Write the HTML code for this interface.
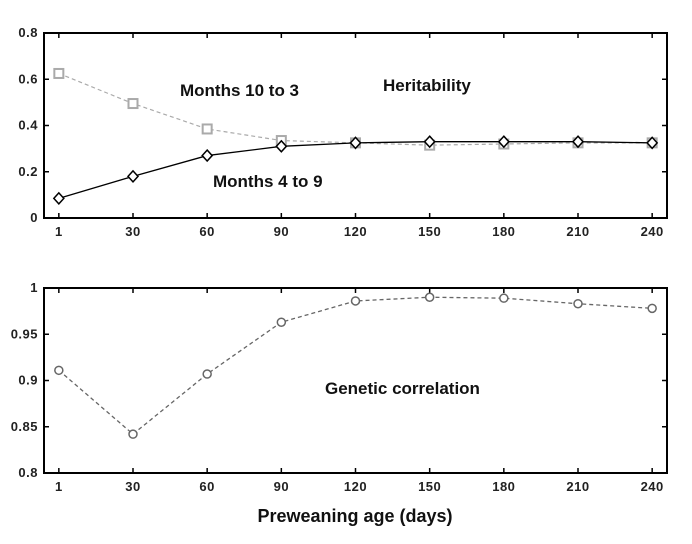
<!DOCTYPE html>
<html><head><meta charset="utf-8"><style>
body{margin:0;background:#fff;}
svg{display:block;font-family:"Liberation Sans",Arial,sans-serif;font-weight:bold;}
</style></head><body>
<svg id="c" width="692" height="544"></svg>
<script>
const categories=["1","30","60","90","120","150","180","210","240"];
const months10to3=[0.625,0.495,0.385,0.335,0.325,0.315,0.32,0.325,0.325];
const months4to9=[0.085,0.18,0.27,0.31,0.325,0.33,0.33,0.33,0.325];
const geneticCorr=[0.911,0.842,0.907,0.963,0.986,0.990,0.989,0.983,0.978];
const topTicks=["0","0.2","0.4","0.6","0.8"];
const botTicks=["0.8","0.85","0.9","0.95","1"];

const svg=document.getElementById('c');const NS="http://www.w3.org/2000/svg";
function mk(t,a,p){const e=document.createElementNS(NS,t);for(const k in a)e.setAttribute(k,a[k]);(p||svg).appendChild(e);return e;}
const L=44,R=667;
const x=i=>L+(i+0.2)/8.4*(R-L);
function panel(name,top,bot,ymin,ymax,ticks){
  const y=v=>bot-(v-ymin)/(ymax-ymin)*(bot-top);
  const g=mk('g',{});
  const fr=mk('rect',{x:L,y:top,width:R-L,height:bot-top,fill:'none',stroke:'#000','stroke-width':2},g);
  
  categories.forEach((c,i)=>{
    mk('line',{x1:x(i),x2:x(i),y1:bot,y2:bot-5,stroke:'#000','stroke-width':1.5},g);
    mk('line',{x1:x(i),x2:x(i),y1:top,y2:top+5,stroke:'#000','stroke-width':1.5},g);
    const t=mk('text',{x:x(i),y:bot+18,'text-anchor':'middle','font-size':13,fill:'#222','letter-spacing':0.5},g);t.textContent=c;
    
  });
  ticks.forEach(s=>{const v=parseFloat(s);const yy=y(v);
    mk('line',{x1:L,x2:L+5,y1:yy,y2:yy,stroke:'#000','stroke-width':1.5},g);
    mk('line',{x1:R,x2:R-5,y1:yy,y2:yy,stroke:'#000','stroke-width':1.5},g);
    const t=mk('text',{x:L-6,y:yy+4,'text-anchor':'end','font-size':13,fill:'#222','letter-spacing':0.5},g);t.textContent=s;
    
  });
  return y;
}
function series(name,vals,y,color,dash,marker,w){
  const p=mk('polyline',{points:vals.map((v,i)=>x(i)+','+y(v)).join(' '),fill:'none',stroke:color,'stroke-width':w,'stroke-dasharray':dash});
  
  vals.forEach((v,i)=>{let m;const cx=x(i),cy=y(v);
    if(marker==='sq')m=mk('rect',{x:cx-4.5,y:cy-4.5,width:9,height:9,fill:'#fff',stroke:color,'stroke-width':2});
    else if(marker==='dia')m=mk('polygon',{points:`${cx},${cy-5.5} ${cx+5},${cy} ${cx},${cy+5.5} ${cx-5},${cy}`,fill:'#fff',stroke:color,'stroke-width':1.5});
    else m=mk('circle',{cx:cx,cy:cy,r:4,fill:'#fff',stroke:color,'stroke-width':1.5});
    
  });
}
const y1=panel('heritability-panel',33,218,0,0.8,topTicks);
series('months-10-to-3',months10to3,y1,'#aaa','4,3','sq',1.2);
series('months-4-to-9',months4to9,y1,'#000','','dia',1.3);
const y2=panel('genetic-correlation-panel',288,473,0.8,1,botTicks);
series('genetic-correlation',geneticCorr,y2,'#666','4,3','circ',1.3);
function lab(s,xx,yy,sz,n,anchor){const t=mk('text',{x:xx,y:yy,'font-size':sz,fill:'#111','text-anchor':anchor||'start'});t.textContent=s;
  }
lab('Months 10 to 3',180,96,17,'label-months-10-to-3');
lab('Heritability',383,91,17,'label-heritability');
lab('Months 4 to 9',213,187,17,'label-months-4-to-9');
lab('Genetic correlation',325,394,17,'label-genetic-correlation');
lab('Preweaning age (days)',355,522,18,'x-axis-title','middle');
</script>
</body></html>
